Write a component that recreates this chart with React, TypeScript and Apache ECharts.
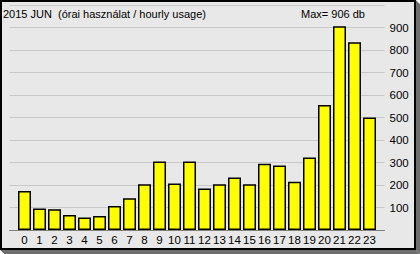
import React, { useEffect, useRef } from "react";
import * as echarts from "echarts";

const hours = [0, 1, 2, 3, 4, 5, 6, 7, 8, 9, 10, 11, 12, 13, 14, 15, 16, 17, 18, 19, 20, 21, 22, 23];
const usage = [173, 96, 92, 67, 56, 62, 107, 141, 203, 304, 207, 304, 185, 203, 233, 203, 295, 287, 215, 322, 556, 906, 835, 500];
const yTicks = [100, 200, 300, 400, 500, 600, 700, 800, 900];
const titleText = "2015 JUN  (órai használat / hourly usage)";
const maxText = "Max= 906 db";

export default function App() {
  const ref = useRef<HTMLDivElement>(null);
  useEffect(() => {
    document.body.style.margin = "0";
    const chart = echarts.init(ref.current!, null, { renderer: "svg" });
    const font = "'Liberation Sans', Arial, sans-serif";
    chart.setOption({
      animation: false,
      backgroundColor: "#e8e8e8",
      grid: { left: 9.5, right: 420 - 384.5, top: 5, bottom: 254 - 230, containLabel: false },
      xAxis: {
        type: "value",
        min: -1,
        max: 24,
        interval: 1,
        axisLine: { show: true, lineStyle: { color: "#808080", width: 1 } },
        axisTick: { show: false },
        splitLine: { show: false },
        axisLabel: {
          color: "#000",
          fontFamily: font,
          fontSize: 11.5,
          margin: 4,
          formatter: (v: number) => (hours.indexOf(v) >= 0 ? String(v) : ""),
        },
      },
      yAxis: {
        type: "value",
        position: "right",
        min: 0,
        max: 1000,
        interval: 100,
        axisLine: { show: false },
        axisTick: { show: false },
        splitLine: { show: true, lineStyle: { color: "#c8c8c8", width: 1 } },
        axisLabel: {
          color: "#000",
          fontFamily: font,
          fontSize: 11.5,
          margin: 5,
          formatter: (v: number) => (yTicks.indexOf(v) >= 0 ? String(v) : ""),
        },
      },
      series: [
        {
          type: "bar",
          barWidth: 13,
          data: hours.map((h, i) => [h, usage[i]]),
          itemStyle: { color: "#ffff00", borderColor: "#000", borderWidth: 1.5 },
        },
      ],
      graphic: [
        {
          type: "rect",
          shape: { x: 1, y: 1, width: 414, height: 248 },
          style: { fill: "none", stroke: "#000", lineWidth: 2 },
          silent: true,
        },
        {
          type: "polygon",
          shape: { points: [[416, 0], [420, 4], [420, 254], [416, 250]] },
          style: { fill: "#6e6e6e" },
          silent: true,
        },
        {
          type: "polygon",
          shape: { points: [[0, 250], [416, 250], [420, 254], [4, 254]] },
          style: { fill: "#6e6e6e" },
          silent: true,
        },
        {
          type: "polygon",
          shape: { points: [[416, 0], [420, 0], [420, 4]] },
          style: { fill: "#ffffff" },
          silent: true,
        },
        {
          type: "polygon",
          shape: { points: [[0, 250], [0, 254], [4, 254]] },
          style: { fill: "#ffffff" },
          silent: true,
        },
        {
          type: "text",
          x: 3,
          y: 14,
          style: { text: titleText, fill: "#000", font: `11px ${font}`, verticalAlign: "middle" },
          silent: true,
        },
        {
          type: "text",
          x: 301,
          y: 14,
          style: { text: maxText, fill: "#000", font: `11px ${font}`, verticalAlign: "middle" },
          silent: true,
        },
      ],
    });
    return () => chart.dispose();
  }, []);
  return <div ref={ref} style={{ width: 420, height: 254 }} />;
}
